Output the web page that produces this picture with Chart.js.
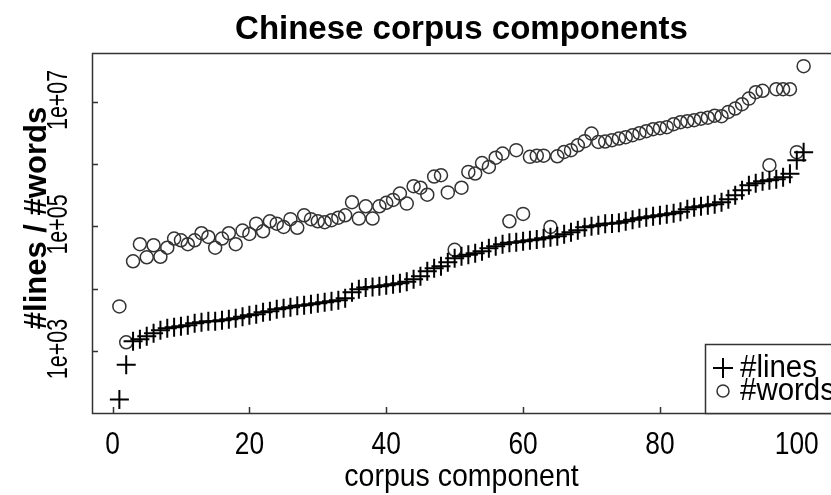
<!DOCTYPE html>
<html>
<head>
<meta charset="utf-8">
<script src="https://cdn.jsdelivr.net/npm/chart.js@4/dist/chart.umd.min.js"></script>
<style>
  html, body { margin: 0; padding: 0; background: #fff; }
  #wrap { width: 831px; height: 495px; position: relative; }
</style>
</head>
<body>
<div id="wrap"><canvas id="c" width="831" height="495"></canvas></div>
<script>
// corpus component index (sorted by size)
const components = [
  1, 2, 3, 4, 5, 6, 7, 8, 9, 10, 11, 12, 13, 14, 15, 16, 17, 18, 19, 20,
  21, 22, 23, 24, 25, 26, 27, 28, 29, 30, 31, 32, 33, 34, 35, 36, 37, 38, 39, 40,
  41, 42, 43, 44, 45, 46, 47, 48, 49, 50, 51, 52, 53, 54, 55, 56, 57, 58, 59, 60,
  61, 62, 63, 64, 65, 66, 67, 68, 69, 70, 71, 72, 73, 74, 75, 76, 77, 78, 79, 80,
  81, 82, 83, 84, 85, 86, 87, 88, 89, 90, 91, 92, 93, 94, 95, 96, 97, 98, 99, 100, 101
];

// number of lines per component
const lineCounts = [
  167, 600, 1430, 1540, 1720, 1920, 2150, 2320, 2400, 2500,
  2590, 2790, 2890, 3000, 3000, 3110, 3230, 3350, 3550, 3740,
  3880, 4180, 4340, 4680, 4860, 5040, 5320, 5420, 5630, 5840,
  6060, 6290, 6530, 7040, 8760, 9800, 10500, 10700, 11000, 11400,
  11800, 12200, 12900, 14200, 15800, 19100, 21300, 23000, 26600, 30900,
  33200, 35000, 37000, 40000, 44600, 48000, 51800, 54800, 55800, 58000,
  60000, 62000, 64500, 67000, 69500, 75000, 80700, 87000, 97000, 100700,
  104500, 110000, 112000, 115000, 121000, 128000, 135000, 140000, 146000, 151000,
  157000, 163000, 172000, 189000, 204000, 212000, 220000, 228000, 245000, 274000,
  316000, 381000, 458000, 494000, 532000, 553000, 574000, 617000, 700000, 1160000, 1550000
];

// number of words per component
const wordCounts = [
  5200, 1380, 27600, 51800, 32000, 49900, 32600, 45500, 64000, 60000,
  51800, 60000, 77800, 67800, 45500, 64000, 77800, 51800, 85900, 75800,
  111000, 83700, 121000, 111000, 98200, 131000, 95300, 151000, 131000, 121000,
  117000, 126000, 138000, 151000, 245000, 134000, 211000, 134000, 211000, 240000,
  267000, 338000, 233000, 443000, 419000, 323000, 634000, 665000, 352000, 42200,
  419000, 751000, 708000, 1040000, 903000, 1270000, 1480000, 121000, 1680000, 159000,
  1310000, 1370000, 1370000, 98200, 1340000, 1570000, 1680000, 2010000, 2340000, 3100000,
  2280000, 2310000, 2430000, 2580000, 2710000, 2920000, 3140000, 3380000, 3640000, 3780000,
  3930000, 4380000, 4720000, 4900000, 5080000, 5370000, 5570000, 6000000, 5890000, 6900000,
  7830000, 9180000, 11300000, 14300000, 15100000, 962000, 16000000, 16000000, 16000000, 1560000, 37500000
];

const xTicks = [0, 20, 40, 60, 80, 100];
const yTicks = [1e3, 1e4, 1e5, 1e6, 1e7];
const yTickLabels = ['1e+03', '', '1e+05', '', '1e+07'];

const FONT = '"Liberation Sans", Arial, Helvetica, sans-serif';
const INK = '#000';
const FRAME = '#333';

// text helper; sx squeezes the glyphs along the writing direction
function drawText(ctx, s, x, y, font, rot, align, sx) {
  ctx.save();
  ctx.translate(x, y);
  if (rot) ctx.rotate(rot);
  if (sx) ctx.scale(sx, 1);
  ctx.font = font;
  ctx.fillStyle = INK;
  ctx.textAlign = align || 'center';
  ctx.textBaseline = 'middle';
  ctx.fillText(s, 0, 0);
  ctx.restore();
}

// box, inward ticks, tick labels, titles and legend in base-graphics style
const baseAxes = {
  id: 'baseAxes',
  afterDatasetsDraw(chart) {
    const { ctx, chartArea: a, scales } = chart;
    const xs = scales.x, ys = scales.y;
    ctx.save();
    ctx.strokeStyle = FRAME;
    ctx.lineWidth = 1.5;
    ctx.strokeRect(a.left + 0.5, a.top + 0.5, a.right - a.left + 4, a.bottom - a.top);

    ctx.beginPath();
    xTicks.forEach(v => {
      const px = Math.round(xs.getPixelForValue(v)) + 0.5;
      ctx.moveTo(px, a.bottom);
      ctx.lineTo(px, a.bottom - 6);
    });
    yTicks.forEach(v => {
      const py = Math.round(ys.getPixelForValue(v)) + 0.5;
      ctx.moveTo(a.left, py);
      ctx.lineTo(a.left + 6, py);
    });
    ctx.stroke();

    xTicks.forEach(v => {
      drawText(ctx, String(v), xs.getPixelForValue(v), 445, '31px ' + FONT, 0, 'center', 0.85);
    });
    yTicks.forEach((v, i) => {
      if (yTickLabels[i]) drawText(ctx, yTickLabels[i], 59, ys.getPixelForValue(v) - 2, '29px ' + FONT, -Math.PI / 2, 'center', 0.74);
    });

    const cx = (a.left + a.right) / 2;
    drawText(ctx, 'Chinese corpus components', cx, 30, 'bold 33px ' + FONT);
    drawText(ctx, 'corpus component', cx, 477, '32px ' + FONT, 0, 'center', 0.89);
    drawText(ctx, '#lines / #words', 37, 218, 'bold 31px ' + FONT, -Math.PI / 2);

    // legend
    ctx.fillStyle = '#fff';
    ctx.fillRect(705, 344, 140, a.bottom - 344);
    ctx.strokeStyle = FRAME;
    ctx.lineWidth = 1.5;
    ctx.strokeRect(705.5, 344.5, 140, a.bottom - 344);
    ctx.strokeStyle = INK;
    ctx.lineWidth = 2;
    ctx.beginPath();
    ctx.moveTo(713, 368); ctx.lineTo(733, 368);
    ctx.moveTo(723, 358); ctx.lineTo(723, 378);
    ctx.stroke();
    ctx.strokeStyle = '#333';
    ctx.lineWidth = 1.5;
    ctx.beginPath();
    ctx.arc(723, 391, 6, 0, Math.PI * 2);
    ctx.stroke();
    drawText(ctx, '#lines', 740, 368, '31px ' + FONT, 0, 'left', 0.95);
    drawText(ctx, '#words', 740, 391, '31px ' + FONT, 0, 'left', 0.95);
    ctx.restore();
  }
};

new Chart(document.getElementById('c'), {
  type: 'scatter',
  data: {
    datasets: [
      {
        label: '#lines',
        data: components.map((c, i) => ({ x: c, y: lineCounts[i] })),
        pointStyle: 'cross',
        pointRadius: 9.5,
        borderColor: '#000',
        backgroundColor: 'rgba(0,0,0,0)',
        borderWidth: 2
      },
      {
        label: '#words',
        data: components.map((c, i) => ({ x: c, y: wordCounts[i] })),
        pointStyle: 'circle',
        pointRadius: 6.5,
        borderColor: '#333',
        backgroundColor: 'rgba(0,0,0,0)',
        borderWidth: 1.5
      }
    ]
  },
  options: {
    responsive: false,
    animation: false,
    devicePixelRatio: 1,
    events: [],
    layout: { autoPadding: false, padding: { left: 92, right: 0, top: 53, bottom: 82 } },
    scales: {
      x: { type: 'linear', min: -3, max: 105, display: false },
      y: { type: 'logarithmic', min: 101, max: 6.1e7, display: false }
    },
    plugins: {
      legend: { display: false },
      title: { display: false },
      tooltip: { enabled: false }
    }
  },
  plugins: [baseAxes]
});
</script>
</body>
</html>
